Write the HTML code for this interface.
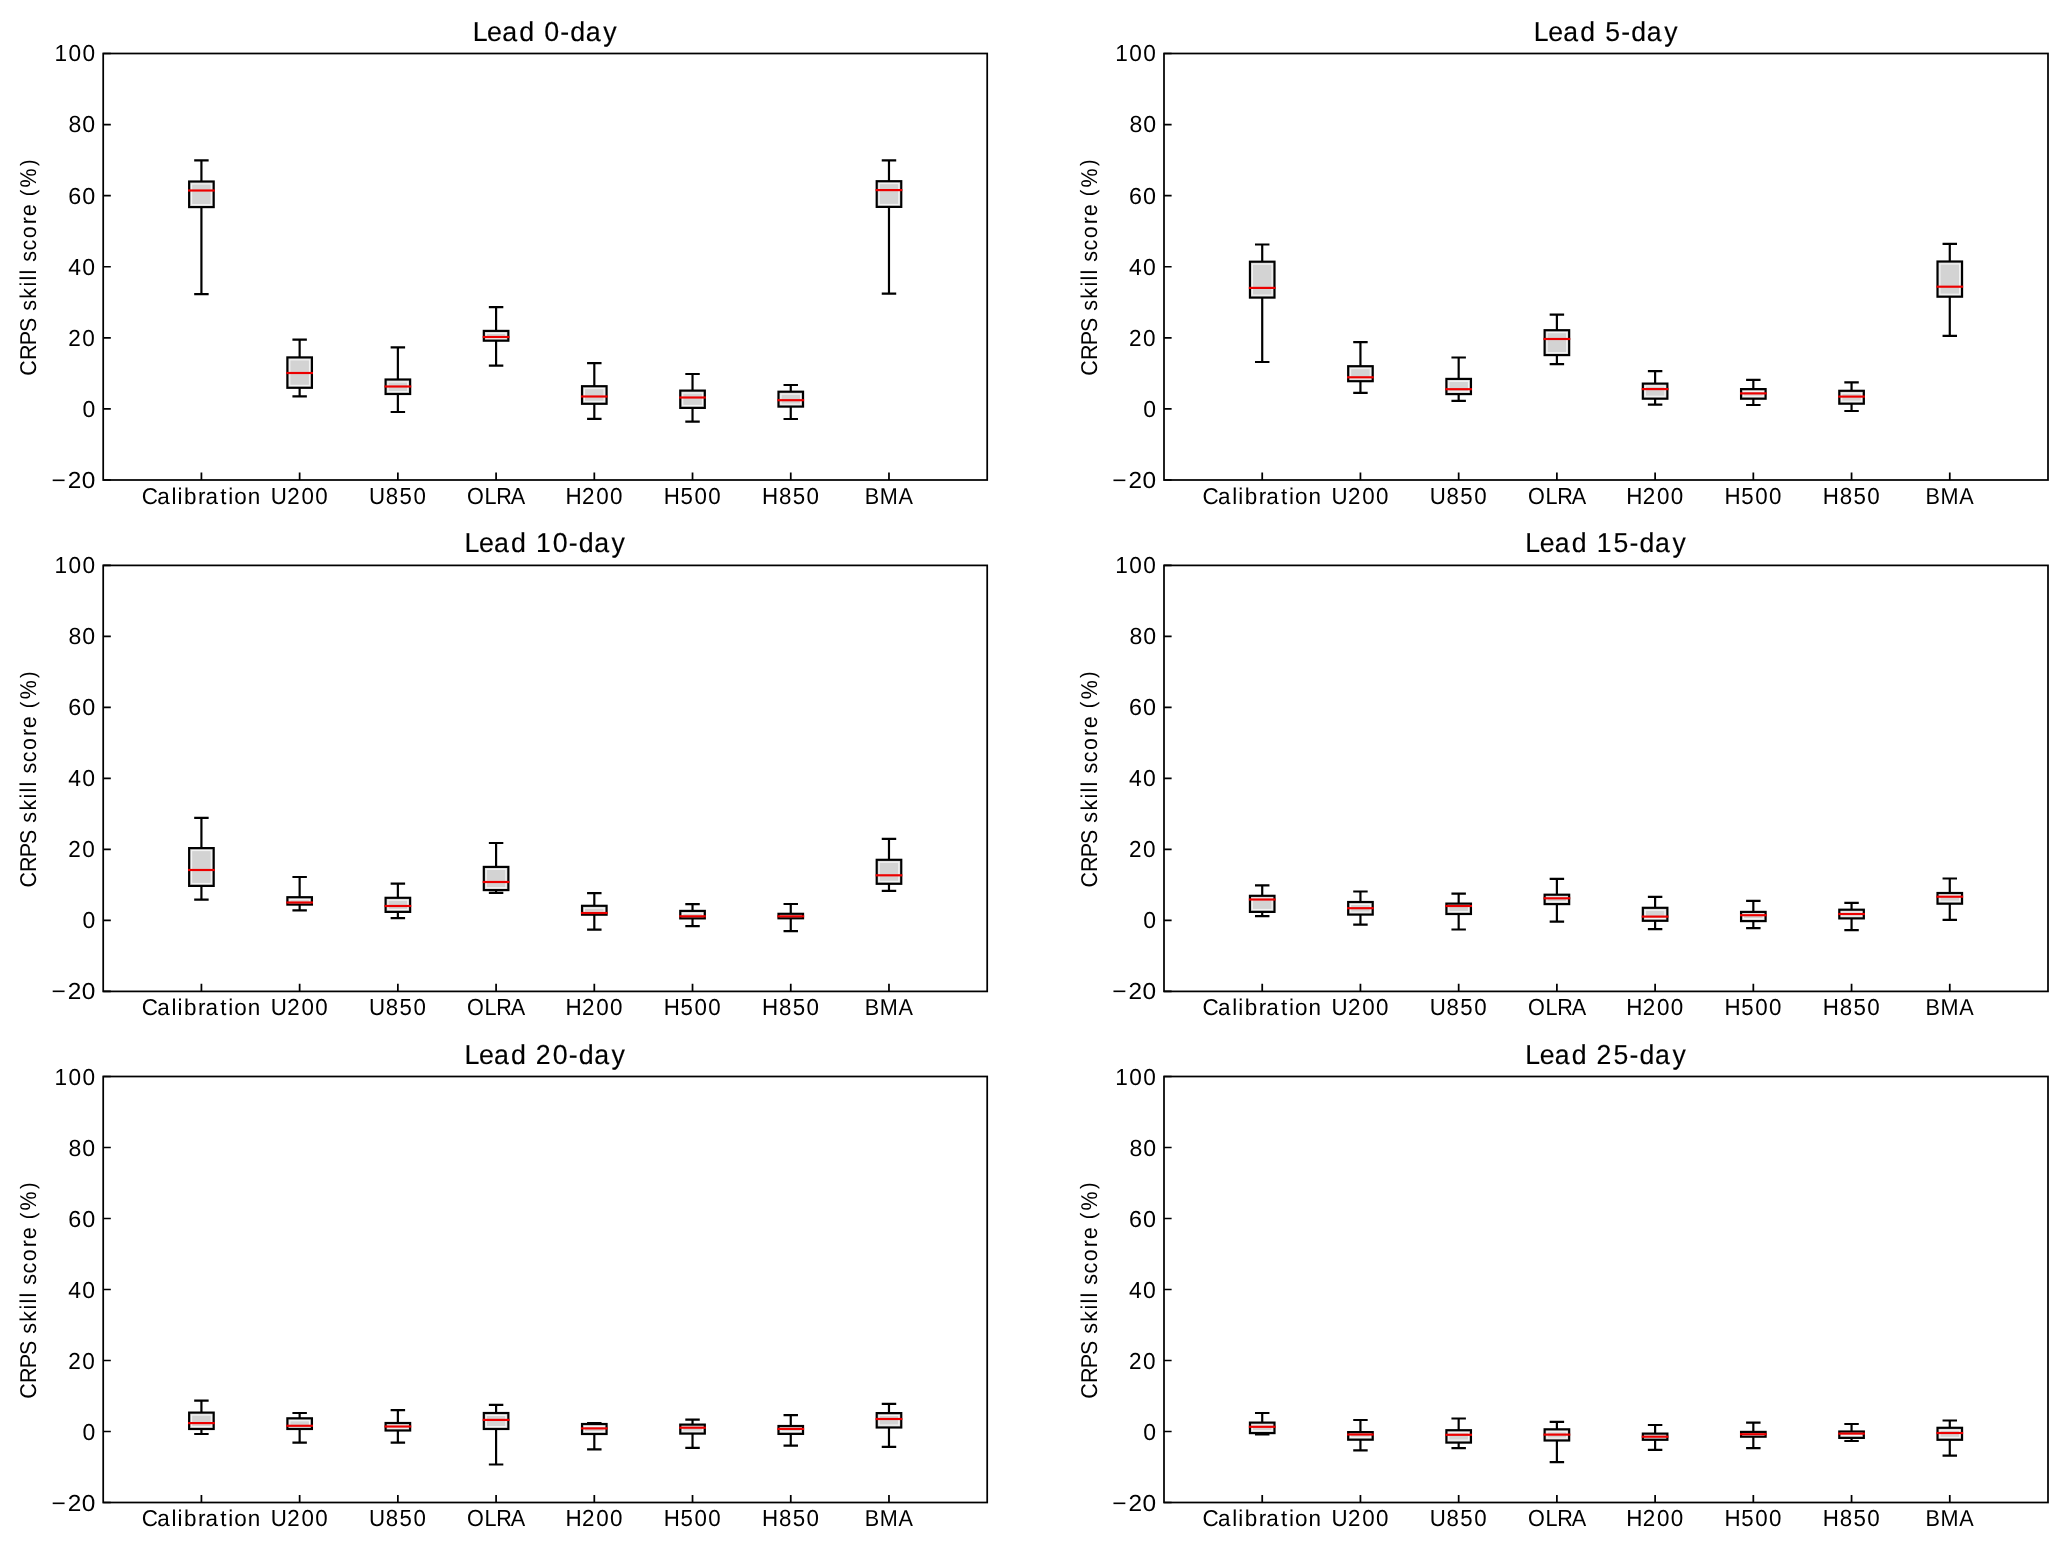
<!DOCTYPE html>
<html><head><meta charset="utf-8"><title>CRPS skill score box plots</title>
<style>
html,body{margin:0;padding:0;background:#fff;}
svg{display:block;will-change:transform;}
text{font-family:"Liberation Sans",sans-serif;fill:#000;font-kerning:none;font-variant-ligatures:none;text-rendering:geometricPrecision;}
.ttl{stroke:#000;stroke-width:0.15px;}
</style></head>
<body><svg width="2067" height="1545" viewBox="0 0 2067 1545">
<rect width="2067" height="1545" fill="#fff"/>
<g><path d="M201.42 207.10V294.10M201.42 181.50V160.30M195.28 294.10H207.56M195.28 160.30H207.56" stroke="#000" stroke-width="2.178" stroke-linecap="square" fill="none"/><rect x="189.14" y="181.50" width="24.56" height="25.60" fill="#d3d3d3"/><rect x="191.54" y="183.90" width="19.76" height="20.80" fill="none" stroke="#f4f4f4" stroke-width="1.2"/><rect x="189.14" y="181.50" width="24.56" height="25.60" fill="none" stroke="#000" stroke-width="2.178"/><path d="M189.14 190.50H213.70" stroke="#ec0000" stroke-width="2.178" stroke-linecap="square"/><path d="M299.64 387.80V396.40M299.64 357.40V339.60M293.51 396.40H305.78M293.51 339.60H305.78" stroke="#000" stroke-width="2.178" stroke-linecap="square" fill="none"/><rect x="287.37" y="357.40" width="24.56" height="30.40" fill="#d3d3d3"/><rect x="289.77" y="359.80" width="19.76" height="25.60" fill="none" stroke="#f4f4f4" stroke-width="1.2"/><rect x="287.37" y="357.40" width="24.56" height="30.40" fill="none" stroke="#000" stroke-width="2.178"/><path d="M287.37 373.00H311.92" stroke="#ec0000" stroke-width="2.178" stroke-linecap="square"/><path d="M397.87 394.00V412.00M397.87 379.50V347.40M391.73 412.00H404.01M391.73 347.40H404.01" stroke="#000" stroke-width="2.178" stroke-linecap="square" fill="none"/><rect x="385.59" y="379.50" width="24.56" height="14.50" fill="#d3d3d3"/><rect x="387.99" y="381.90" width="19.76" height="9.70" fill="none" stroke="#f4f4f4" stroke-width="1.2"/><rect x="385.59" y="379.50" width="24.56" height="14.50" fill="none" stroke="#000" stroke-width="2.178"/><path d="M385.59 386.50H410.14" stroke="#ec0000" stroke-width="2.178" stroke-linecap="square"/><path d="M496.09 340.70V365.70M496.09 330.90V307.20M489.95 365.70H502.23M489.95 307.20H502.23" stroke="#000" stroke-width="2.178" stroke-linecap="square" fill="none"/><rect x="483.81" y="330.90" width="24.56" height="9.80" fill="#d3d3d3"/><rect x="486.21" y="333.30" width="19.76" height="5.00" fill="none" stroke="#f4f4f4" stroke-width="1.2"/><rect x="483.81" y="330.90" width="24.56" height="9.80" fill="none" stroke="#000" stroke-width="2.178"/><path d="M483.81 337.00H508.37" stroke="#ec0000" stroke-width="2.178" stroke-linecap="square"/><path d="M594.31 403.80V418.90M594.31 386.20V363.10M588.17 418.90H600.45M588.17 363.10H600.45" stroke="#000" stroke-width="2.178" stroke-linecap="square" fill="none"/><rect x="582.03" y="386.20" width="24.56" height="17.60" fill="#d3d3d3"/><rect x="584.43" y="388.60" width="19.76" height="12.80" fill="none" stroke="#f4f4f4" stroke-width="1.2"/><rect x="582.03" y="386.20" width="24.56" height="17.60" fill="none" stroke="#000" stroke-width="2.178"/><path d="M582.03 396.50H606.59" stroke="#ec0000" stroke-width="2.178" stroke-linecap="square"/><path d="M692.53 407.90V421.70M692.53 390.60V374.00M686.39 421.70H698.67M686.39 374.00H698.67" stroke="#000" stroke-width="2.178" stroke-linecap="square" fill="none"/><rect x="680.26" y="390.60" width="24.56" height="17.30" fill="#d3d3d3"/><rect x="682.66" y="393.00" width="19.76" height="12.50" fill="none" stroke="#f4f4f4" stroke-width="1.2"/><rect x="680.26" y="390.60" width="24.56" height="17.30" fill="none" stroke="#000" stroke-width="2.178"/><path d="M680.26 397.50H704.81" stroke="#ec0000" stroke-width="2.178" stroke-linecap="square"/><path d="M790.76 406.60V419.00M790.76 391.70V385.00M784.62 419.00H796.89M784.62 385.00H796.89" stroke="#000" stroke-width="2.178" stroke-linecap="square" fill="none"/><rect x="778.48" y="391.70" width="24.56" height="14.90" fill="#d3d3d3"/><rect x="780.88" y="394.10" width="19.76" height="10.10" fill="none" stroke="#f4f4f4" stroke-width="1.2"/><rect x="778.48" y="391.70" width="24.56" height="14.90" fill="none" stroke="#000" stroke-width="2.178"/><path d="M778.48 400.20H803.03" stroke="#ec0000" stroke-width="2.178" stroke-linecap="square"/><path d="M888.98 206.90V293.60M888.98 181.20V160.30M882.84 293.60H895.12M882.84 160.30H895.12" stroke="#000" stroke-width="2.178" stroke-linecap="square" fill="none"/><rect x="876.70" y="181.20" width="24.56" height="25.70" fill="#d3d3d3"/><rect x="879.10" y="183.60" width="19.76" height="20.90" fill="none" stroke="#f4f4f4" stroke-width="1.2"/><rect x="876.70" y="181.20" width="24.56" height="25.70" fill="none" stroke="#000" stroke-width="2.178"/><path d="M876.70 190.10H901.26" stroke="#ec0000" stroke-width="2.178" stroke-linecap="square"/><path d="M201.42 480.00V472.38M299.64 480.00V472.38M397.87 480.00V472.38M496.09 480.00V472.38M594.31 480.00V472.38M692.53 480.00V472.38M790.76 480.00V472.38M888.98 480.00V472.38M103.20 480.00H110.82M103.20 408.92H110.82M103.20 337.83H110.82M103.20 266.75H110.82M103.20 195.67H110.82M103.20 124.58H110.82M103.20 53.50H110.82" stroke="#000" stroke-width="1.742" fill="none"/><rect x="103.20" y="53.50" width="884.00" height="426.50" fill="none" stroke="#000" stroke-width="1.742"/><text font-size="27.404" x="0.39 15.06 30.41 47.89 64.15 73.51 89.88 99.95 115.78 133.62" y="0" transform="translate(472.366,40.700) scale(0.9788,1)" class="ttl">Lead 0-day</text><text font-size="22.837" transform="translate(36.100,375.418) rotate(-90) scale(0.9405,1)"><tspan x="-0.28" y="0">C</tspan><tspan x="16.36" y="0">R</tspan><tspan x="32.03" y="0">P</tspan><tspan x="46.08" y="0">S</tspan><tspan x="68.77" y="0">s</tspan><tspan x="81.58" y="0">k</tspan><tspan x="94.45" y="0">i</tspan><tspan x="100.87" y="0">l</tspan><tspan x="107.31" y="0">l</tspan><tspan x="120.90" y="0">s</tspan><tspan x="132.88" y="0">c</tspan><tspan x="145.96" y="0">o</tspan><tspan x="160.83" y="0">r</tspan><tspan x="169.21" y="0">e</tspan><tspan x="190.53" y="-1.44" font-size="20.821">(</tspan><tspan x="199.88" y="0">%</tspan><tspan x="222.60" y="-1.44" font-size="20.821">)</tspan></text><text font-size="23.151" x="1.88 17.14 30.53" y="0" transform="translate(49.588,487.900) scale(1.0557,1)">−20</text><text font-size="23.151" x="0.54" y="0" transform="translate(82.077,416.817) scale(0.9917,1)">0</text><text font-size="23.151" x="0.37 14.89" y="0" transform="translate(67.818,345.733) scale(0.9742,1)">20</text><text font-size="23.151" x="0.54 14.51" y="0" transform="translate(67.834,274.650) scale(0.9918,1)">40</text><text font-size="23.151" x="0.43 14.16" y="0" transform="translate(67.856,203.567) scale(1.0088,1)">60</text><text font-size="23.151" x="0.51 14.40" y="0" transform="translate(67.877,132.483) scale(0.9970,1)">80</text><text font-size="23.151" x="0.53 14.81 28.98" y="0" transform="translate(54.116,61.400) scale(0.9779,1)">100</text><text font-size="22.837" x="-0.63 15.08 29.59 35.76 42.19 56.62 64.15 79.23 87.35 93.39 107.23" y="0" transform="translate(142.437,503.950) scale(0.9830,1)">Calibration</text><text font-size="23.151" x="-0.09 16.98 31.65 46.02" y="0" transform="translate(270.895,503.950) scale(0.9642,1)">U200</text><text font-size="23.151" x="-0.07 17.34 31.65 46.15" y="0" transform="translate(369.145,503.950) scale(0.9618,1)">U850</text><text font-size="23.151" x="0.18 18.92 31.47 46.84" y="0" transform="translate(466.884,503.950) scale(0.9344,1)">OLRA</text><text font-size="23.151" x="0.10 17.35 31.96 46.29" y="0" transform="translate(565.305,503.950) scale(0.9676,1)">H200</text><text font-size="23.151" x="0.14 17.68 32.16 46.55" y="0" transform="translate(663.555,503.950) scale(0.9627,1)">H500</text><text font-size="23.151" x="0.12 17.70 31.97 46.42" y="0" transform="translate(761.805,503.950) scale(0.9652,1)">H850</text><text font-size="23.078" x="0.25 16.35 36.22" y="0" transform="translate(864.455,503.950) scale(0.9376,1)">BMA</text></g>
<g><path d="M1262.22 297.60V362.00M1262.22 261.70V244.50M1256.08 362.00H1268.36M1256.08 244.50H1268.36" stroke="#000" stroke-width="2.178" stroke-linecap="square" fill="none"/><rect x="1249.94" y="261.70" width="24.56" height="35.90" fill="#d3d3d3"/><rect x="1252.34" y="264.10" width="19.76" height="31.10" fill="none" stroke="#f4f4f4" stroke-width="1.2"/><rect x="1249.94" y="261.70" width="24.56" height="35.90" fill="none" stroke="#000" stroke-width="2.178"/><path d="M1249.94 287.90H1274.50" stroke="#ec0000" stroke-width="2.178" stroke-linecap="square"/><path d="M1360.44 381.20V392.90M1360.44 366.20V342.10M1354.31 392.90H1366.58M1354.31 342.10H1366.58" stroke="#000" stroke-width="2.178" stroke-linecap="square" fill="none"/><rect x="1348.17" y="366.20" width="24.56" height="15.00" fill="#d3d3d3"/><rect x="1350.57" y="368.60" width="19.76" height="10.20" fill="none" stroke="#f4f4f4" stroke-width="1.2"/><rect x="1348.17" y="366.20" width="24.56" height="15.00" fill="none" stroke="#000" stroke-width="2.178"/><path d="M1348.17 377.30H1372.72" stroke="#ec0000" stroke-width="2.178" stroke-linecap="square"/><path d="M1458.67 394.10V400.90M1458.67 378.90V357.50M1452.53 400.90H1464.81M1452.53 357.50H1464.81" stroke="#000" stroke-width="2.178" stroke-linecap="square" fill="none"/><rect x="1446.39" y="378.90" width="24.56" height="15.20" fill="#d3d3d3"/><rect x="1448.79" y="381.30" width="19.76" height="10.40" fill="none" stroke="#f4f4f4" stroke-width="1.2"/><rect x="1446.39" y="378.90" width="24.56" height="15.20" fill="none" stroke="#000" stroke-width="2.178"/><path d="M1446.39 389.20H1470.94" stroke="#ec0000" stroke-width="2.178" stroke-linecap="square"/><path d="M1556.89 355.10V364.10M1556.89 330.20V314.60M1550.75 364.10H1563.03M1550.75 314.60H1563.03" stroke="#000" stroke-width="2.178" stroke-linecap="square" fill="none"/><rect x="1544.61" y="330.20" width="24.56" height="24.90" fill="#d3d3d3"/><rect x="1547.01" y="332.60" width="19.76" height="20.10" fill="none" stroke="#f4f4f4" stroke-width="1.2"/><rect x="1544.61" y="330.20" width="24.56" height="24.90" fill="none" stroke="#000" stroke-width="2.178"/><path d="M1544.61 339.00H1569.17" stroke="#ec0000" stroke-width="2.178" stroke-linecap="square"/><path d="M1655.11 398.70V404.60M1655.11 383.60V371.10M1648.97 404.60H1661.25M1648.97 371.10H1661.25" stroke="#000" stroke-width="2.178" stroke-linecap="square" fill="none"/><rect x="1642.83" y="383.60" width="24.56" height="15.10" fill="#d3d3d3"/><rect x="1645.23" y="386.00" width="19.76" height="10.30" fill="none" stroke="#f4f4f4" stroke-width="1.2"/><rect x="1642.83" y="383.60" width="24.56" height="15.10" fill="none" stroke="#000" stroke-width="2.178"/><path d="M1642.83 389.10H1667.39" stroke="#ec0000" stroke-width="2.178" stroke-linecap="square"/><path d="M1753.33 398.70V405.00M1753.33 389.10V379.90M1747.19 405.00H1759.47M1747.19 379.90H1759.47" stroke="#000" stroke-width="2.178" stroke-linecap="square" fill="none"/><rect x="1741.06" y="389.10" width="24.56" height="9.60" fill="#d3d3d3"/><rect x="1743.46" y="391.50" width="19.76" height="4.80" fill="none" stroke="#f4f4f4" stroke-width="1.2"/><rect x="1741.06" y="389.10" width="24.56" height="9.60" fill="none" stroke="#000" stroke-width="2.178"/><path d="M1741.06 393.40H1765.61" stroke="#ec0000" stroke-width="2.178" stroke-linecap="square"/><path d="M1851.56 403.70V411.00M1851.56 390.80V382.40M1845.42 411.00H1857.69M1845.42 382.40H1857.69" stroke="#000" stroke-width="2.178" stroke-linecap="square" fill="none"/><rect x="1839.28" y="390.80" width="24.56" height="12.90" fill="#d3d3d3"/><rect x="1841.68" y="393.20" width="19.76" height="8.10" fill="none" stroke="#f4f4f4" stroke-width="1.2"/><rect x="1839.28" y="390.80" width="24.56" height="12.90" fill="none" stroke="#000" stroke-width="2.178"/><path d="M1839.28 396.60H1863.83" stroke="#ec0000" stroke-width="2.178" stroke-linecap="square"/><path d="M1949.78 296.70V335.90M1949.78 261.50V243.90M1943.64 335.90H1955.92M1943.64 243.90H1955.92" stroke="#000" stroke-width="2.178" stroke-linecap="square" fill="none"/><rect x="1937.50" y="261.50" width="24.56" height="35.20" fill="#d3d3d3"/><rect x="1939.90" y="263.90" width="19.76" height="30.40" fill="none" stroke="#f4f4f4" stroke-width="1.2"/><rect x="1937.50" y="261.50" width="24.56" height="35.20" fill="none" stroke="#000" stroke-width="2.178"/><path d="M1937.50 286.70H1962.06" stroke="#ec0000" stroke-width="2.178" stroke-linecap="square"/><path d="M1262.22 480.00V472.38M1360.44 480.00V472.38M1458.67 480.00V472.38M1556.89 480.00V472.38M1655.11 480.00V472.38M1753.33 480.00V472.38M1851.56 480.00V472.38M1949.78 480.00V472.38M1164.00 480.00H1171.62M1164.00 408.92H1171.62M1164.00 337.83H1171.62M1164.00 266.75H1171.62M1164.00 195.67H1171.62M1164.00 124.58H1171.62M1164.00 53.50H1171.62" stroke="#000" stroke-width="1.742" fill="none"/><rect x="1164.00" y="53.50" width="884.00" height="426.50" fill="none" stroke="#000" stroke-width="1.742"/><text font-size="27.404" x="0.45 15.21 30.67 48.27 64.59 73.96 90.53 100.68 116.63 134.58" y="0" transform="translate(1533.366,40.700) scale(0.9721,1)" class="ttl">Lead 5-day</text><text font-size="22.837" transform="translate(1096.900,375.418) rotate(-90) scale(0.9405,1)"><tspan x="-0.28" y="0">C</tspan><tspan x="16.36" y="0">R</tspan><tspan x="32.03" y="0">P</tspan><tspan x="46.08" y="0">S</tspan><tspan x="68.77" y="0">s</tspan><tspan x="81.58" y="0">k</tspan><tspan x="94.45" y="0">i</tspan><tspan x="100.87" y="0">l</tspan><tspan x="107.31" y="0">l</tspan><tspan x="120.90" y="0">s</tspan><tspan x="132.88" y="0">c</tspan><tspan x="145.96" y="0">o</tspan><tspan x="160.83" y="0">r</tspan><tspan x="169.21" y="0">e</tspan><tspan x="190.53" y="-1.44" font-size="20.821">(</tspan><tspan x="199.88" y="0">%</tspan><tspan x="222.60" y="-1.44" font-size="20.821">)</tspan></text><text font-size="23.151" x="1.88 17.14 30.53" y="0" transform="translate(1110.338,487.900) scale(1.0557,1)">−20</text><text font-size="23.151" x="0.54" y="0" transform="translate(1142.827,416.817) scale(0.9917,1)">0</text><text font-size="23.151" x="0.37 14.89" y="0" transform="translate(1128.568,345.733) scale(0.9742,1)">20</text><text font-size="23.151" x="0.54 14.51" y="0" transform="translate(1128.584,274.650) scale(0.9918,1)">40</text><text font-size="23.151" x="0.43 14.16" y="0" transform="translate(1128.606,203.567) scale(1.0088,1)">60</text><text font-size="23.151" x="0.51 14.40" y="0" transform="translate(1128.877,132.483) scale(0.9970,1)">80</text><text font-size="23.151" x="0.53 14.81 28.98" y="0" transform="translate(1114.866,61.400) scale(0.9779,1)">100</text><text font-size="22.837" x="-0.63 15.08 29.59 35.76 42.19 56.62 64.15 79.23 87.35 93.39 107.23" y="0" transform="translate(1203.187,503.950) scale(0.9830,1)">Calibration</text><text font-size="23.151" x="-0.09 16.98 31.65 46.02" y="0" transform="translate(1331.645,503.950) scale(0.9642,1)">U200</text><text font-size="23.151" x="-0.07 17.34 31.65 46.15" y="0" transform="translate(1429.895,503.950) scale(0.9618,1)">U850</text><text font-size="23.151" x="0.18 18.92 31.47 46.84" y="0" transform="translate(1527.884,503.950) scale(0.9344,1)">OLRA</text><text font-size="23.151" x="0.10 17.35 31.96 46.29" y="0" transform="translate(1626.055,503.950) scale(0.9676,1)">H200</text><text font-size="23.151" x="0.14 17.68 32.16 46.55" y="0" transform="translate(1724.305,503.950) scale(0.9627,1)">H500</text><text font-size="23.151" x="0.12 17.70 31.97 46.42" y="0" transform="translate(1822.555,503.950) scale(0.9652,1)">H850</text><text font-size="23.078" x="0.25 16.35 36.22" y="0" transform="translate(1925.205,503.950) scale(0.9376,1)">BMA</text></g>
<g><path d="M201.42 885.90V899.70M201.42 848.10V817.80M195.28 899.70H207.56M195.28 817.80H207.56" stroke="#000" stroke-width="2.178" stroke-linecap="square" fill="none"/><rect x="189.14" y="848.10" width="24.56" height="37.80" fill="#d3d3d3"/><rect x="191.54" y="850.50" width="19.76" height="33.00" fill="none" stroke="#f4f4f4" stroke-width="1.2"/><rect x="189.14" y="848.10" width="24.56" height="37.80" fill="none" stroke="#000" stroke-width="2.178"/><path d="M189.14 870.00H213.70" stroke="#ec0000" stroke-width="2.178" stroke-linecap="square"/><path d="M299.64 904.60V910.40M299.64 897.20V877.00M293.51 910.40H305.78M293.51 877.00H305.78" stroke="#000" stroke-width="2.178" stroke-linecap="square" fill="none"/><rect x="287.37" y="897.20" width="24.56" height="7.40" fill="#d3d3d3"/><rect x="289.77" y="899.60" width="19.76" height="2.60" fill="none" stroke="#f4f4f4" stroke-width="1.2"/><rect x="287.37" y="897.20" width="24.56" height="7.40" fill="none" stroke="#000" stroke-width="2.178"/><path d="M287.37 902.50H311.92" stroke="#ec0000" stroke-width="2.178" stroke-linecap="square"/><path d="M397.87 911.90V918.20M397.87 897.80V883.70M391.73 918.20H404.01M391.73 883.70H404.01" stroke="#000" stroke-width="2.178" stroke-linecap="square" fill="none"/><rect x="385.59" y="897.80" width="24.56" height="14.10" fill="#d3d3d3"/><rect x="387.99" y="900.20" width="19.76" height="9.30" fill="none" stroke="#f4f4f4" stroke-width="1.2"/><rect x="385.59" y="897.80" width="24.56" height="14.10" fill="none" stroke="#000" stroke-width="2.178"/><path d="M385.59 906.00H410.14" stroke="#ec0000" stroke-width="2.178" stroke-linecap="square"/><path d="M496.09 890.10V892.90M496.09 866.90V843.00M489.95 892.90H502.23M489.95 843.00H502.23" stroke="#000" stroke-width="2.178" stroke-linecap="square" fill="none"/><rect x="483.81" y="866.90" width="24.56" height="23.20" fill="#d3d3d3"/><rect x="486.21" y="869.30" width="19.76" height="18.40" fill="none" stroke="#f4f4f4" stroke-width="1.2"/><rect x="483.81" y="866.90" width="24.56" height="23.20" fill="none" stroke="#000" stroke-width="2.178"/><path d="M483.81 882.00H508.37" stroke="#ec0000" stroke-width="2.178" stroke-linecap="square"/><path d="M594.31 914.70V929.70M594.31 905.80V893.10M588.17 929.70H600.45M588.17 893.10H600.45" stroke="#000" stroke-width="2.178" stroke-linecap="square" fill="none"/><rect x="582.03" y="905.80" width="24.56" height="8.90" fill="#d3d3d3"/><rect x="584.43" y="908.20" width="19.76" height="4.10" fill="none" stroke="#f4f4f4" stroke-width="1.2"/><rect x="582.03" y="905.80" width="24.56" height="8.90" fill="none" stroke="#000" stroke-width="2.178"/><path d="M582.03 913.00H606.59" stroke="#ec0000" stroke-width="2.178" stroke-linecap="square"/><path d="M692.53 918.40V926.20M692.53 910.90V904.20M686.39 926.20H698.67M686.39 904.20H698.67" stroke="#000" stroke-width="2.178" stroke-linecap="square" fill="none"/><rect x="680.26" y="910.90" width="24.56" height="7.50" fill="#d3d3d3"/><rect x="682.66" y="913.30" width="19.76" height="2.70" fill="none" stroke="#f4f4f4" stroke-width="1.2"/><rect x="680.26" y="910.90" width="24.56" height="7.50" fill="none" stroke="#000" stroke-width="2.178"/><path d="M680.26 916.30H704.81" stroke="#ec0000" stroke-width="2.178" stroke-linecap="square"/><path d="M790.76 918.30V931.20M790.76 913.80V904.00M784.62 931.20H796.89M784.62 904.00H796.89" stroke="#000" stroke-width="2.178" stroke-linecap="square" fill="none"/><rect x="778.48" y="913.80" width="24.56" height="4.50" fill="#d3d3d3"/><rect x="778.48" y="913.80" width="24.56" height="4.50" fill="#f4f4f4"/><rect x="778.48" y="913.80" width="24.56" height="4.50" fill="none" stroke="#000" stroke-width="2.178"/><path d="M778.48 916.30H803.03" stroke="#ec0000" stroke-width="2.178" stroke-linecap="square"/><path d="M888.98 883.80V890.90M888.98 859.80V838.90M882.84 890.90H895.12M882.84 838.90H895.12" stroke="#000" stroke-width="2.178" stroke-linecap="square" fill="none"/><rect x="876.70" y="859.80" width="24.56" height="24.00" fill="#d3d3d3"/><rect x="879.10" y="862.20" width="19.76" height="19.20" fill="none" stroke="#f4f4f4" stroke-width="1.2"/><rect x="876.70" y="859.80" width="24.56" height="24.00" fill="none" stroke="#000" stroke-width="2.178"/><path d="M876.70 875.30H901.26" stroke="#ec0000" stroke-width="2.178" stroke-linecap="square"/><path d="M201.42 991.40V983.78M299.64 991.40V983.78M397.87 991.40V983.78M496.09 991.40V983.78M594.31 991.40V983.78M692.53 991.40V983.78M790.76 991.40V983.78M888.98 991.40V983.78M103.20 991.40H110.82M103.20 920.40H110.82M103.20 849.40H110.82M103.20 778.40H110.82M103.20 707.40H110.82M103.20 636.40H110.82M103.20 565.40H110.82" stroke="#000" stroke-width="1.742" fill="none"/><rect x="103.20" y="565.40" width="884.00" height="426.00" fill="none" stroke="#000" stroke-width="1.742"/><text font-size="27.404" x="0.40 15.10 30.48 47.99 64.27 73.52 90.68 107.08 117.17 133.03 150.90" y="0" transform="translate(464.177,551.700) scale(0.9770,1)" class="ttl">Lead 10-day</text><text font-size="22.837" transform="translate(36.100,887.318) rotate(-90) scale(0.9405,1)"><tspan x="-0.28" y="0">C</tspan><tspan x="16.36" y="0">R</tspan><tspan x="32.03" y="0">P</tspan><tspan x="46.08" y="0">S</tspan><tspan x="68.77" y="0">s</tspan><tspan x="81.58" y="0">k</tspan><tspan x="94.45" y="0">i</tspan><tspan x="100.87" y="0">l</tspan><tspan x="107.31" y="0">l</tspan><tspan x="120.90" y="0">s</tspan><tspan x="132.88" y="0">c</tspan><tspan x="145.96" y="0">o</tspan><tspan x="160.83" y="0">r</tspan><tspan x="169.21" y="0">e</tspan><tspan x="190.53" y="-1.44" font-size="20.821">(</tspan><tspan x="199.88" y="0">%</tspan><tspan x="222.60" y="-1.44" font-size="20.821">)</tspan></text><text font-size="23.151" x="1.88 17.14 30.53" y="0" transform="translate(49.588,998.900) scale(1.0557,1)">−20</text><text font-size="23.151" x="0.54" y="0" transform="translate(82.077,927.900) scale(0.9917,1)">0</text><text font-size="23.151" x="0.37 14.89" y="0" transform="translate(67.818,856.900) scale(0.9742,1)">20</text><text font-size="23.151" x="0.54 14.51" y="0" transform="translate(67.834,785.900) scale(0.9918,1)">40</text><text font-size="23.151" x="0.43 14.16" y="0" transform="translate(67.856,714.900) scale(1.0088,1)">60</text><text font-size="23.151" x="0.51 14.40" y="0" transform="translate(67.877,643.900) scale(0.9970,1)">80</text><text font-size="23.151" x="0.53 14.81 28.98" y="0" transform="translate(54.116,572.900) scale(0.9779,1)">100</text><text font-size="22.837" x="-0.63 15.08 29.59 35.76 42.19 56.62 64.15 79.23 87.35 93.39 107.23" y="0" transform="translate(142.437,1015.350) scale(0.9830,1)">Calibration</text><text font-size="23.151" x="-0.09 16.98 31.65 46.02" y="0" transform="translate(270.895,1015.350) scale(0.9642,1)">U200</text><text font-size="23.151" x="-0.07 17.34 31.65 46.15" y="0" transform="translate(369.145,1015.350) scale(0.9618,1)">U850</text><text font-size="23.151" x="0.18 18.92 31.47 46.84" y="0" transform="translate(466.884,1015.350) scale(0.9344,1)">OLRA</text><text font-size="23.151" x="0.10 17.35 31.96 46.29" y="0" transform="translate(565.305,1015.350) scale(0.9676,1)">H200</text><text font-size="23.151" x="0.14 17.68 32.16 46.55" y="0" transform="translate(663.555,1015.350) scale(0.9627,1)">H500</text><text font-size="23.151" x="0.12 17.70 31.97 46.42" y="0" transform="translate(761.805,1015.350) scale(0.9652,1)">H850</text><text font-size="23.078" x="0.25 16.35 36.22" y="0" transform="translate(864.455,1015.350) scale(0.9376,1)">BMA</text></g>
<g><path d="M1262.22 911.90V916.20M1262.22 895.80V885.40M1256.08 916.20H1268.36M1256.08 885.40H1268.36" stroke="#000" stroke-width="2.178" stroke-linecap="square" fill="none"/><rect x="1249.94" y="895.80" width="24.56" height="16.10" fill="#d3d3d3"/><rect x="1252.34" y="898.20" width="19.76" height="11.30" fill="none" stroke="#f4f4f4" stroke-width="1.2"/><rect x="1249.94" y="895.80" width="24.56" height="16.10" fill="none" stroke="#000" stroke-width="2.178"/><path d="M1249.94 899.50H1274.50" stroke="#ec0000" stroke-width="2.178" stroke-linecap="square"/><path d="M1360.44 914.60V924.60M1360.44 902.00V891.50M1354.31 924.60H1366.58M1354.31 891.50H1366.58" stroke="#000" stroke-width="2.178" stroke-linecap="square" fill="none"/><rect x="1348.17" y="902.00" width="24.56" height="12.60" fill="#d3d3d3"/><rect x="1350.57" y="904.40" width="19.76" height="7.80" fill="none" stroke="#f4f4f4" stroke-width="1.2"/><rect x="1348.17" y="902.00" width="24.56" height="12.60" fill="none" stroke="#000" stroke-width="2.178"/><path d="M1348.17 908.20H1372.72" stroke="#ec0000" stroke-width="2.178" stroke-linecap="square"/><path d="M1458.67 914.00V929.50M1458.67 903.60V893.70M1452.53 929.50H1464.81M1452.53 893.70H1464.81" stroke="#000" stroke-width="2.178" stroke-linecap="square" fill="none"/><rect x="1446.39" y="903.60" width="24.56" height="10.40" fill="#d3d3d3"/><rect x="1448.79" y="906.00" width="19.76" height="5.60" fill="none" stroke="#f4f4f4" stroke-width="1.2"/><rect x="1446.39" y="903.60" width="24.56" height="10.40" fill="none" stroke="#000" stroke-width="2.178"/><path d="M1446.39 906.00H1470.94" stroke="#ec0000" stroke-width="2.178" stroke-linecap="square"/><path d="M1556.89 904.10V921.70M1556.89 894.70V878.90M1550.75 921.70H1563.03M1550.75 878.90H1563.03" stroke="#000" stroke-width="2.178" stroke-linecap="square" fill="none"/><rect x="1544.61" y="894.70" width="24.56" height="9.40" fill="#d3d3d3"/><rect x="1547.01" y="897.10" width="19.76" height="4.60" fill="none" stroke="#f4f4f4" stroke-width="1.2"/><rect x="1544.61" y="894.70" width="24.56" height="9.40" fill="none" stroke="#000" stroke-width="2.178"/><path d="M1544.61 898.30H1569.17" stroke="#ec0000" stroke-width="2.178" stroke-linecap="square"/><path d="M1655.11 920.80V929.10M1655.11 907.80V896.80M1648.97 929.10H1661.25M1648.97 896.80H1661.25" stroke="#000" stroke-width="2.178" stroke-linecap="square" fill="none"/><rect x="1642.83" y="907.80" width="24.56" height="13.00" fill="#d3d3d3"/><rect x="1645.23" y="910.20" width="19.76" height="8.20" fill="none" stroke="#f4f4f4" stroke-width="1.2"/><rect x="1642.83" y="907.80" width="24.56" height="13.00" fill="none" stroke="#000" stroke-width="2.178"/><path d="M1642.83 916.60H1667.39" stroke="#ec0000" stroke-width="2.178" stroke-linecap="square"/><path d="M1753.33 921.10V928.20M1753.33 911.90V900.90M1747.19 928.20H1759.47M1747.19 900.90H1759.47" stroke="#000" stroke-width="2.178" stroke-linecap="square" fill="none"/><rect x="1741.06" y="911.90" width="24.56" height="9.20" fill="#d3d3d3"/><rect x="1743.46" y="914.30" width="19.76" height="4.40" fill="none" stroke="#f4f4f4" stroke-width="1.2"/><rect x="1741.06" y="911.90" width="24.56" height="9.20" fill="none" stroke="#000" stroke-width="2.178"/><path d="M1741.06 915.20H1765.61" stroke="#ec0000" stroke-width="2.178" stroke-linecap="square"/><path d="M1851.56 918.40V930.20M1851.56 909.70V902.90M1845.42 930.20H1857.69M1845.42 902.90H1857.69" stroke="#000" stroke-width="2.178" stroke-linecap="square" fill="none"/><rect x="1839.28" y="909.70" width="24.56" height="8.70" fill="#d3d3d3"/><rect x="1841.68" y="912.10" width="19.76" height="3.90" fill="none" stroke="#f4f4f4" stroke-width="1.2"/><rect x="1839.28" y="909.70" width="24.56" height="8.70" fill="none" stroke="#000" stroke-width="2.178"/><path d="M1839.28 914.00H1863.83" stroke="#ec0000" stroke-width="2.178" stroke-linecap="square"/><path d="M1949.78 903.70V919.80M1949.78 893.00V878.50M1943.64 919.80H1955.92M1943.64 878.50H1955.92" stroke="#000" stroke-width="2.178" stroke-linecap="square" fill="none"/><rect x="1937.50" y="893.00" width="24.56" height="10.70" fill="#d3d3d3"/><rect x="1939.90" y="895.40" width="19.76" height="5.90" fill="none" stroke="#f4f4f4" stroke-width="1.2"/><rect x="1937.50" y="893.00" width="24.56" height="10.70" fill="none" stroke="#000" stroke-width="2.178"/><path d="M1937.50 896.70H1962.06" stroke="#ec0000" stroke-width="2.178" stroke-linecap="square"/><path d="M1262.22 991.40V983.78M1360.44 991.40V983.78M1458.67 991.40V983.78M1556.89 991.40V983.78M1655.11 991.40V983.78M1753.33 991.40V983.78M1851.56 991.40V983.78M1949.78 991.40V983.78M1164.00 991.40H1171.62M1164.00 920.40H1171.62M1164.00 849.40H1171.62M1164.00 778.40H1171.62M1164.00 707.40H1171.62M1164.00 636.40H1171.62M1164.00 565.40H1171.62" stroke="#000" stroke-width="1.742" fill="none"/><rect x="1164.00" y="565.40" width="884.00" height="426.00" fill="none" stroke="#000" stroke-width="1.742"/><text font-size="27.404" x="0.46 15.24 30.72 48.33 64.67 74.03 91.18 107.77 117.94 133.90 151.87" y="0" transform="translate(1524.927,551.700) scale(0.9710,1)" class="ttl">Lead 15-day</text><text font-size="22.837" transform="translate(1096.900,887.318) rotate(-90) scale(0.9405,1)"><tspan x="-0.28" y="0">C</tspan><tspan x="16.36" y="0">R</tspan><tspan x="32.03" y="0">P</tspan><tspan x="46.08" y="0">S</tspan><tspan x="68.77" y="0">s</tspan><tspan x="81.58" y="0">k</tspan><tspan x="94.45" y="0">i</tspan><tspan x="100.87" y="0">l</tspan><tspan x="107.31" y="0">l</tspan><tspan x="120.90" y="0">s</tspan><tspan x="132.88" y="0">c</tspan><tspan x="145.96" y="0">o</tspan><tspan x="160.83" y="0">r</tspan><tspan x="169.21" y="0">e</tspan><tspan x="190.53" y="-1.44" font-size="20.821">(</tspan><tspan x="199.88" y="0">%</tspan><tspan x="222.60" y="-1.44" font-size="20.821">)</tspan></text><text font-size="23.151" x="1.88 17.14 30.53" y="0" transform="translate(1110.338,998.900) scale(1.0557,1)">−20</text><text font-size="23.151" x="0.54" y="0" transform="translate(1142.827,927.900) scale(0.9917,1)">0</text><text font-size="23.151" x="0.37 14.89" y="0" transform="translate(1128.568,856.900) scale(0.9742,1)">20</text><text font-size="23.151" x="0.54 14.51" y="0" transform="translate(1128.584,785.900) scale(0.9918,1)">40</text><text font-size="23.151" x="0.43 14.16" y="0" transform="translate(1128.606,714.900) scale(1.0088,1)">60</text><text font-size="23.151" x="0.51 14.40" y="0" transform="translate(1128.877,643.900) scale(0.9970,1)">80</text><text font-size="23.151" x="0.53 14.81 28.98" y="0" transform="translate(1114.866,572.900) scale(0.9779,1)">100</text><text font-size="22.837" x="-0.63 15.08 29.59 35.76 42.19 56.62 64.15 79.23 87.35 93.39 107.23" y="0" transform="translate(1203.187,1015.350) scale(0.9830,1)">Calibration</text><text font-size="23.151" x="-0.09 16.98 31.65 46.02" y="0" transform="translate(1331.645,1015.350) scale(0.9642,1)">U200</text><text font-size="23.151" x="-0.07 17.34 31.65 46.15" y="0" transform="translate(1429.895,1015.350) scale(0.9618,1)">U850</text><text font-size="23.151" x="0.18 18.92 31.47 46.84" y="0" transform="translate(1527.884,1015.350) scale(0.9344,1)">OLRA</text><text font-size="23.151" x="0.10 17.35 31.96 46.29" y="0" transform="translate(1626.055,1015.350) scale(0.9676,1)">H200</text><text font-size="23.151" x="0.14 17.68 32.16 46.55" y="0" transform="translate(1724.305,1015.350) scale(0.9627,1)">H500</text><text font-size="23.151" x="0.12 17.70 31.97 46.42" y="0" transform="translate(1822.555,1015.350) scale(0.9652,1)">H850</text><text font-size="23.078" x="0.25 16.35 36.22" y="0" transform="translate(1925.205,1015.350) scale(0.9376,1)">BMA</text></g>
<g><path d="M201.42 1429.00V1434.00M201.42 1412.60V1400.70M195.28 1434.00H207.56M195.28 1400.70H207.56" stroke="#000" stroke-width="2.178" stroke-linecap="square" fill="none"/><rect x="189.14" y="1412.60" width="24.56" height="16.40" fill="#d3d3d3"/><rect x="191.54" y="1415.00" width="19.76" height="11.60" fill="none" stroke="#f4f4f4" stroke-width="1.2"/><rect x="189.14" y="1412.60" width="24.56" height="16.40" fill="none" stroke="#000" stroke-width="2.178"/><path d="M189.14 1423.10H213.70" stroke="#ec0000" stroke-width="2.178" stroke-linecap="square"/><path d="M299.64 1429.00V1442.60M299.64 1418.30V1413.00M293.51 1442.60H305.78M293.51 1413.00H305.78" stroke="#000" stroke-width="2.178" stroke-linecap="square" fill="none"/><rect x="287.37" y="1418.30" width="24.56" height="10.70" fill="#d3d3d3"/><rect x="289.77" y="1420.70" width="19.76" height="5.90" fill="none" stroke="#f4f4f4" stroke-width="1.2"/><rect x="287.37" y="1418.30" width="24.56" height="10.70" fill="none" stroke="#000" stroke-width="2.178"/><path d="M287.37 1425.80H311.92" stroke="#ec0000" stroke-width="2.178" stroke-linecap="square"/><path d="M397.87 1430.50V1442.60M397.87 1423.00V1410.10M391.73 1442.60H404.01M391.73 1410.10H404.01" stroke="#000" stroke-width="2.178" stroke-linecap="square" fill="none"/><rect x="385.59" y="1423.00" width="24.56" height="7.50" fill="#d3d3d3"/><rect x="387.99" y="1425.40" width="19.76" height="2.70" fill="none" stroke="#f4f4f4" stroke-width="1.2"/><rect x="385.59" y="1423.00" width="24.56" height="7.50" fill="none" stroke="#000" stroke-width="2.178"/><path d="M385.59 1426.50H410.14" stroke="#ec0000" stroke-width="2.178" stroke-linecap="square"/><path d="M496.09 1429.00V1464.50M496.09 1413.00V1404.80M489.95 1464.50H502.23M489.95 1404.80H502.23" stroke="#000" stroke-width="2.178" stroke-linecap="square" fill="none"/><rect x="483.81" y="1413.00" width="24.56" height="16.00" fill="#d3d3d3"/><rect x="486.21" y="1415.40" width="19.76" height="11.20" fill="none" stroke="#f4f4f4" stroke-width="1.2"/><rect x="483.81" y="1413.00" width="24.56" height="16.00" fill="none" stroke="#000" stroke-width="2.178"/><path d="M483.81 1419.90H508.37" stroke="#ec0000" stroke-width="2.178" stroke-linecap="square"/><path d="M594.31 1434.00V1449.40M594.31 1424.00V1423.00M588.17 1449.40H600.45M588.17 1423.00H600.45" stroke="#000" stroke-width="2.178" stroke-linecap="square" fill="none"/><rect x="582.03" y="1424.00" width="24.56" height="10.00" fill="#d3d3d3"/><rect x="584.43" y="1426.40" width="19.76" height="5.20" fill="none" stroke="#f4f4f4" stroke-width="1.2"/><rect x="582.03" y="1424.00" width="24.56" height="10.00" fill="none" stroke="#000" stroke-width="2.178"/><path d="M582.03 1428.40H606.59" stroke="#ec0000" stroke-width="2.178" stroke-linecap="square"/><path d="M692.53 1433.60V1447.90M692.53 1424.60V1419.60M686.39 1447.90H698.67M686.39 1419.60H698.67" stroke="#000" stroke-width="2.178" stroke-linecap="square" fill="none"/><rect x="680.26" y="1424.60" width="24.56" height="9.00" fill="#d3d3d3"/><rect x="682.66" y="1427.00" width="19.76" height="4.20" fill="none" stroke="#f4f4f4" stroke-width="1.2"/><rect x="680.26" y="1424.60" width="24.56" height="9.00" fill="none" stroke="#000" stroke-width="2.178"/><path d="M680.26 1427.70H704.81" stroke="#ec0000" stroke-width="2.178" stroke-linecap="square"/><path d="M790.76 1433.90V1445.70M790.76 1426.00V1415.20M784.62 1445.70H796.89M784.62 1415.20H796.89" stroke="#000" stroke-width="2.178" stroke-linecap="square" fill="none"/><rect x="778.48" y="1426.00" width="24.56" height="7.90" fill="#d3d3d3"/><rect x="780.88" y="1428.40" width="19.76" height="3.10" fill="none" stroke="#f4f4f4" stroke-width="1.2"/><rect x="778.48" y="1426.00" width="24.56" height="7.90" fill="none" stroke="#000" stroke-width="2.178"/><path d="M778.48 1428.90H803.03" stroke="#ec0000" stroke-width="2.178" stroke-linecap="square"/><path d="M888.98 1427.50V1446.90M888.98 1413.10V1403.90M882.84 1446.90H895.12M882.84 1403.90H895.12" stroke="#000" stroke-width="2.178" stroke-linecap="square" fill="none"/><rect x="876.70" y="1413.10" width="24.56" height="14.40" fill="#d3d3d3"/><rect x="879.10" y="1415.50" width="19.76" height="9.60" fill="none" stroke="#f4f4f4" stroke-width="1.2"/><rect x="876.70" y="1413.10" width="24.56" height="14.40" fill="none" stroke="#000" stroke-width="2.178"/><path d="M876.70 1419.00H901.26" stroke="#ec0000" stroke-width="2.178" stroke-linecap="square"/><path d="M201.42 1502.50V1494.88M299.64 1502.50V1494.88M397.87 1502.50V1494.88M496.09 1502.50V1494.88M594.31 1502.50V1494.88M692.53 1502.50V1494.88M790.76 1502.50V1494.88M888.98 1502.50V1494.88M103.20 1502.50H110.82M103.20 1431.50H110.82M103.20 1360.50H110.82M103.20 1289.50H110.82M103.20 1218.50H110.82M103.20 1147.50H110.82M103.20 1076.50H110.82" stroke="#000" stroke-width="1.742" fill="none"/><rect x="103.20" y="1076.50" width="884.00" height="426.00" fill="none" stroke="#000" stroke-width="1.742"/><text font-size="27.404" x="0.40 15.08 30.45 47.94 64.22 73.24 90.60 106.99 117.07 132.91 150.77" y="0" transform="translate(464.177,1063.500) scale(0.9778,1)" class="ttl">Lead 20-day</text><text font-size="22.837" transform="translate(36.100,1398.418) rotate(-90) scale(0.9405,1)"><tspan x="-0.28" y="0">C</tspan><tspan x="16.36" y="0">R</tspan><tspan x="32.03" y="0">P</tspan><tspan x="46.08" y="0">S</tspan><tspan x="68.77" y="0">s</tspan><tspan x="81.58" y="0">k</tspan><tspan x="94.45" y="0">i</tspan><tspan x="100.87" y="0">l</tspan><tspan x="107.31" y="0">l</tspan><tspan x="120.90" y="0">s</tspan><tspan x="132.88" y="0">c</tspan><tspan x="145.96" y="0">o</tspan><tspan x="160.83" y="0">r</tspan><tspan x="169.21" y="0">e</tspan><tspan x="190.53" y="-1.44" font-size="20.821">(</tspan><tspan x="199.88" y="0">%</tspan><tspan x="222.60" y="-1.44" font-size="20.821">)</tspan></text><text font-size="23.151" x="1.88 17.14 30.53" y="0" transform="translate(49.588,1510.600) scale(1.0557,1)">−20</text><text font-size="23.151" x="0.54" y="0" transform="translate(82.077,1439.600) scale(0.9917,1)">0</text><text font-size="23.151" x="0.37 14.89" y="0" transform="translate(67.818,1368.600) scale(0.9742,1)">20</text><text font-size="23.151" x="0.54 14.51" y="0" transform="translate(67.834,1297.600) scale(0.9918,1)">40</text><text font-size="23.151" x="0.43 14.16" y="0" transform="translate(67.856,1226.600) scale(1.0088,1)">60</text><text font-size="23.151" x="0.51 14.40" y="0" transform="translate(67.877,1155.600) scale(0.9970,1)">80</text><text font-size="23.151" x="0.53 14.81 28.98" y="0" transform="translate(54.116,1084.600) scale(0.9779,1)">100</text><text font-size="22.837" x="-0.63 15.08 29.59 35.76 42.19 56.62 64.15 79.23 87.35 93.39 107.23" y="0" transform="translate(142.437,1526.450) scale(0.9830,1)">Calibration</text><text font-size="23.151" x="-0.09 16.98 31.65 46.02" y="0" transform="translate(270.895,1526.450) scale(0.9642,1)">U200</text><text font-size="23.151" x="-0.07 17.34 31.65 46.15" y="0" transform="translate(369.145,1526.450) scale(0.9618,1)">U850</text><text font-size="23.151" x="0.18 18.92 31.47 46.84" y="0" transform="translate(466.884,1526.450) scale(0.9344,1)">OLRA</text><text font-size="23.151" x="0.10 17.35 31.96 46.29" y="0" transform="translate(565.305,1526.450) scale(0.9676,1)">H200</text><text font-size="23.151" x="0.14 17.68 32.16 46.55" y="0" transform="translate(663.555,1526.450) scale(0.9627,1)">H500</text><text font-size="23.151" x="0.12 17.70 31.97 46.42" y="0" transform="translate(761.805,1526.450) scale(0.9652,1)">H850</text><text font-size="23.078" x="0.25 16.35 36.22" y="0" transform="translate(864.455,1526.450) scale(0.9376,1)">BMA</text></g>
<g><path d="M1262.22 1433.10V1434.30M1262.22 1422.60V1413.00M1256.08 1434.30H1268.36M1256.08 1413.00H1268.36" stroke="#000" stroke-width="2.178" stroke-linecap="square" fill="none"/><rect x="1249.94" y="1422.60" width="24.56" height="10.50" fill="#d3d3d3"/><rect x="1252.34" y="1425.00" width="19.76" height="5.70" fill="none" stroke="#f4f4f4" stroke-width="1.2"/><rect x="1249.94" y="1422.60" width="24.56" height="10.50" fill="none" stroke="#000" stroke-width="2.178"/><path d="M1249.94 1426.80H1274.50" stroke="#ec0000" stroke-width="2.178" stroke-linecap="square"/><path d="M1360.44 1439.70V1450.30M1360.44 1432.10V1420.00M1354.31 1450.30H1366.58M1354.31 1420.00H1366.58" stroke="#000" stroke-width="2.178" stroke-linecap="square" fill="none"/><rect x="1348.17" y="1432.10" width="24.56" height="7.60" fill="#d3d3d3"/><rect x="1350.57" y="1434.50" width="19.76" height="2.80" fill="none" stroke="#f4f4f4" stroke-width="1.2"/><rect x="1348.17" y="1432.10" width="24.56" height="7.60" fill="none" stroke="#000" stroke-width="2.178"/><path d="M1348.17 1434.50H1372.72" stroke="#ec0000" stroke-width="2.178" stroke-linecap="square"/><path d="M1458.67 1442.60V1448.10M1458.67 1430.20V1418.50M1452.53 1448.10H1464.81M1452.53 1418.50H1464.81" stroke="#000" stroke-width="2.178" stroke-linecap="square" fill="none"/><rect x="1446.39" y="1430.20" width="24.56" height="12.40" fill="#d3d3d3"/><rect x="1448.79" y="1432.60" width="19.76" height="7.60" fill="none" stroke="#f4f4f4" stroke-width="1.2"/><rect x="1446.39" y="1430.20" width="24.56" height="12.40" fill="none" stroke="#000" stroke-width="2.178"/><path d="M1446.39 1434.80H1470.94" stroke="#ec0000" stroke-width="2.178" stroke-linecap="square"/><path d="M1556.89 1440.50V1462.10M1556.89 1429.30V1421.90M1550.75 1462.10H1563.03M1550.75 1421.90H1563.03" stroke="#000" stroke-width="2.178" stroke-linecap="square" fill="none"/><rect x="1544.61" y="1429.30" width="24.56" height="11.20" fill="#d3d3d3"/><rect x="1547.01" y="1431.70" width="19.76" height="6.40" fill="none" stroke="#f4f4f4" stroke-width="1.2"/><rect x="1544.61" y="1429.30" width="24.56" height="11.20" fill="none" stroke="#000" stroke-width="2.178"/><path d="M1544.61 1434.60H1569.17" stroke="#ec0000" stroke-width="2.178" stroke-linecap="square"/><path d="M1655.11 1439.80V1449.80M1655.11 1433.60V1425.00M1648.97 1449.80H1661.25M1648.97 1425.00H1661.25" stroke="#000" stroke-width="2.178" stroke-linecap="square" fill="none"/><rect x="1642.83" y="1433.60" width="24.56" height="6.20" fill="#d3d3d3"/><rect x="1645.23" y="1436.00" width="19.76" height="1.40" fill="none" stroke="#f4f4f4" stroke-width="1.2"/><rect x="1642.83" y="1433.60" width="24.56" height="6.20" fill="none" stroke="#000" stroke-width="2.178"/><path d="M1642.83 1436.70H1667.39" stroke="#ec0000" stroke-width="2.178" stroke-linecap="square"/><path d="M1753.33 1436.70V1448.20M1753.33 1431.90V1422.60M1747.19 1448.20H1759.47M1747.19 1422.60H1759.47" stroke="#000" stroke-width="2.178" stroke-linecap="square" fill="none"/><rect x="1741.06" y="1431.90" width="24.56" height="4.80" fill="#d3d3d3"/><rect x="1741.06" y="1431.90" width="24.56" height="4.80" fill="#f4f4f4"/><rect x="1741.06" y="1431.90" width="24.56" height="4.80" fill="none" stroke="#000" stroke-width="2.178"/><path d="M1741.06 1434.20H1765.61" stroke="#ec0000" stroke-width="2.178" stroke-linecap="square"/><path d="M1851.56 1437.90V1441.00M1851.56 1431.50V1424.00M1845.42 1441.00H1857.69M1845.42 1424.00H1857.69" stroke="#000" stroke-width="2.178" stroke-linecap="square" fill="none"/><rect x="1839.28" y="1431.50" width="24.56" height="6.40" fill="#d3d3d3"/><rect x="1841.68" y="1433.90" width="19.76" height="1.60" fill="none" stroke="#f4f4f4" stroke-width="1.2"/><rect x="1839.28" y="1431.50" width="24.56" height="6.40" fill="none" stroke="#000" stroke-width="2.178"/><path d="M1839.28 1433.60H1863.83" stroke="#ec0000" stroke-width="2.178" stroke-linecap="square"/><path d="M1949.78 1439.80V1455.70M1949.78 1427.80V1420.50M1943.64 1455.70H1955.92M1943.64 1420.50H1955.92" stroke="#000" stroke-width="2.178" stroke-linecap="square" fill="none"/><rect x="1937.50" y="1427.80" width="24.56" height="12.00" fill="#d3d3d3"/><rect x="1939.90" y="1430.20" width="19.76" height="7.20" fill="none" stroke="#f4f4f4" stroke-width="1.2"/><rect x="1937.50" y="1427.80" width="24.56" height="12.00" fill="none" stroke="#000" stroke-width="2.178"/><path d="M1937.50 1433.00H1962.06" stroke="#ec0000" stroke-width="2.178" stroke-linecap="square"/><path d="M1262.22 1502.50V1494.88M1360.44 1502.50V1494.88M1458.67 1502.50V1494.88M1556.89 1502.50V1494.88M1655.11 1502.50V1494.88M1753.33 1502.50V1494.88M1851.56 1502.50V1494.88M1949.78 1502.50V1494.88M1164.00 1502.50H1171.62M1164.00 1431.50H1171.62M1164.00 1360.50H1171.62M1164.00 1289.50H1171.62M1164.00 1218.50H1171.62M1164.00 1147.50H1171.62M1164.00 1076.50H1171.62" stroke="#000" stroke-width="1.742" fill="none"/><rect x="1164.00" y="1076.50" width="884.00" height="426.00" fill="none" stroke="#000" stroke-width="1.742"/><text font-size="27.404" x="0.45 15.22 30.68 48.28 64.61 73.73 91.09 107.67 117.83 133.78 151.74" y="0" transform="translate(1524.927,1063.500) scale(0.9718,1)" class="ttl">Lead 25-day</text><text font-size="22.837" transform="translate(1096.900,1398.418) rotate(-90) scale(0.9405,1)"><tspan x="-0.28" y="0">C</tspan><tspan x="16.36" y="0">R</tspan><tspan x="32.03" y="0">P</tspan><tspan x="46.08" y="0">S</tspan><tspan x="68.77" y="0">s</tspan><tspan x="81.58" y="0">k</tspan><tspan x="94.45" y="0">i</tspan><tspan x="100.87" y="0">l</tspan><tspan x="107.31" y="0">l</tspan><tspan x="120.90" y="0">s</tspan><tspan x="132.88" y="0">c</tspan><tspan x="145.96" y="0">o</tspan><tspan x="160.83" y="0">r</tspan><tspan x="169.21" y="0">e</tspan><tspan x="190.53" y="-1.44" font-size="20.821">(</tspan><tspan x="199.88" y="0">%</tspan><tspan x="222.60" y="-1.44" font-size="20.821">)</tspan></text><text font-size="23.151" x="1.88 17.14 30.53" y="0" transform="translate(1110.338,1510.600) scale(1.0557,1)">−20</text><text font-size="23.151" x="0.54" y="0" transform="translate(1142.827,1439.600) scale(0.9917,1)">0</text><text font-size="23.151" x="0.37 14.89" y="0" transform="translate(1128.568,1368.600) scale(0.9742,1)">20</text><text font-size="23.151" x="0.54 14.51" y="0" transform="translate(1128.584,1297.600) scale(0.9918,1)">40</text><text font-size="23.151" x="0.43 14.16" y="0" transform="translate(1128.606,1226.600) scale(1.0088,1)">60</text><text font-size="23.151" x="0.51 14.40" y="0" transform="translate(1128.877,1155.600) scale(0.9970,1)">80</text><text font-size="23.151" x="0.53 14.81 28.98" y="0" transform="translate(1114.866,1084.600) scale(0.9779,1)">100</text><text font-size="22.837" x="-0.63 15.08 29.59 35.76 42.19 56.62 64.15 79.23 87.35 93.39 107.23" y="0" transform="translate(1203.187,1526.450) scale(0.9830,1)">Calibration</text><text font-size="23.151" x="-0.09 16.98 31.65 46.02" y="0" transform="translate(1331.645,1526.450) scale(0.9642,1)">U200</text><text font-size="23.151" x="-0.07 17.34 31.65 46.15" y="0" transform="translate(1429.895,1526.450) scale(0.9618,1)">U850</text><text font-size="23.151" x="0.18 18.92 31.47 46.84" y="0" transform="translate(1527.884,1526.450) scale(0.9344,1)">OLRA</text><text font-size="23.151" x="0.10 17.35 31.96 46.29" y="0" transform="translate(1626.055,1526.450) scale(0.9676,1)">H200</text><text font-size="23.151" x="0.14 17.68 32.16 46.55" y="0" transform="translate(1724.305,1526.450) scale(0.9627,1)">H500</text><text font-size="23.151" x="0.12 17.70 31.97 46.42" y="0" transform="translate(1822.555,1526.450) scale(0.9652,1)">H850</text><text font-size="23.078" x="0.25 16.35 36.22" y="0" transform="translate(1925.205,1526.450) scale(0.9376,1)">BMA</text></g>
</svg></body></html>
